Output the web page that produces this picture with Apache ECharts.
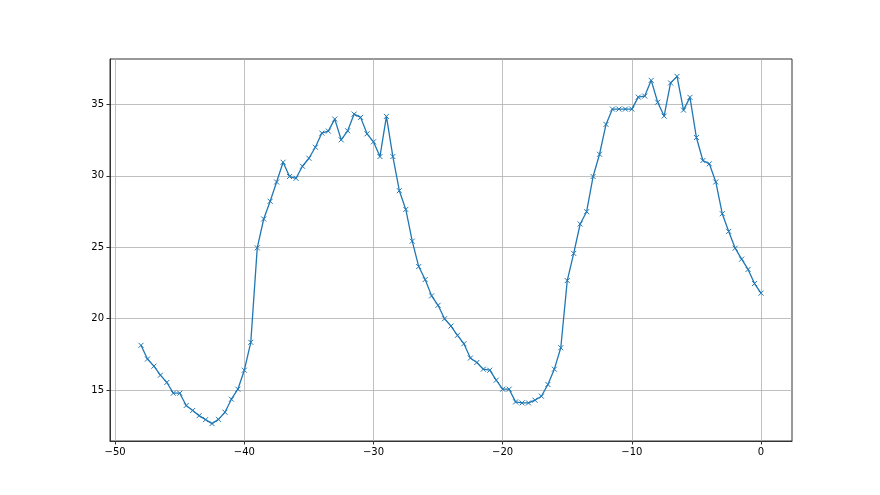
<!DOCTYPE html>
<html><head><meta charset="utf-8">
<script src="https://cdn.jsdelivr.net/npm/echarts@6/dist/echarts.min.js"></script>
<style>html,body{margin:0;padding:0;background:#fff}#c{width:880px;height:495px}</style>
</head><body><div id="c"></div>
<script>
const xStart = -48;
const xStep = 0.5;
const yValues = [
18.14,17.18,16.68,16.05,15.54,14.79,14.79,13.93,13.58,13.22,
12.94,12.66,12.96,13.46,14.37,15.07,16.40,18.35,24.96,26.98,
28.22,29.57,30.95,29.95,29.83,30.67,31.23,32.00,32.99,33.13,
33.97,32.52,33.15,34.32,34.09,32.94,32.38,31.35,34.16,31.35,
28.96,27.65,25.43,23.65,22.74,21.60,20.94,20.00,19.49,18.84,
18.25,17.25,16.94,16.47,16.40,15.70,15.07,15.07,14.18,14.11,
14.11,14.30,14.58,15.40,16.47,17.97,22.67,24.57,26.63,27.49,
29.95,31.51,33.60,34.67,34.67,34.67,34.67,35.51,35.58,36.68,
35.15,34.18,36.50,36.96,34.60,35.49,32.68,31.07,30.84,29.57,
27.35,26.11,24.94,24.17,23.45,22.46,21.79
];
const xValues = yValues.map((_, i) => xStart + i * xStep);
const xTicks = [-50, -40, -30, -20, -10, 0];
const yTicks = [15, 20, 25, 30, 35];

const data = xValues.map((x, i) => [x, yValues[i]]);
const ymin = Math.min(...yValues), ymax = Math.max(...yValues);
const xpad = (xValues[xValues.length-1] - xValues[0]) * 0.05;
const ypad = (ymax - ymin) * 0.05;
const fmt = v => String(v).replace('-', '\u2212');

const chart = echarts.init(document.getElementById('c'), null, {renderer: 'canvas'});
chart.setOption({
  animation: false,
  backgroundColor: '#fff',
  grid: {left: 110, right: 88, top: 59, bottom: 54, show: true, borderColor: '#333', borderWidth: 1, backgroundColor: 'transparent'},
  xAxis: {
    type: 'value', min: xValues[0] - xpad, max: xValues[xValues.length-1] + xpad, splitNumber: 5,
    axisLine: {show: true, onZero: false, lineStyle: {color: '#333', width: 1}},
    axisTick: {show: true, length: 3.5, lineStyle: {color: '#333'}, customValues: xTicks},
    axisLabel: {color: '#000', fontSize: 10, fontFamily: 'DejaVu Sans', margin: 6, showMinLabel: true, showMaxLabel: true, customValues: xTicks, formatter: fmt},
    splitLine: {show: true, lineStyle: {color: '#b0b0b0', width: 0.8}}
  },
  yAxis: {
    type: 'value', min: ymin - ypad, max: ymax + ypad, splitNumber: 5,
    axisLine: {show: true, onZero: false, lineStyle: {color: '#333', width: 1}},
    axisTick: {show: true, length: 3.5, lineStyle: {color: '#333'}, customValues: yTicks},
    axisLabel: {color: '#000', fontSize: 10, fontFamily: 'DejaVu Sans', margin: 6, showMinLabel: true, showMaxLabel: true, customValues: yTicks, formatter: fmt},
    splitLine: {show: true, lineStyle: {color: '#b0b0b0', width: 0.8}}
  },
  series: [{
    type: 'line', data: data,
    lineStyle: {color: '#1f77b4', width: 1.3},
    symbol: 'path://M0,0L10,10M10,0L0,10', symbolSize: 5, showAllSymbol: true,
    itemStyle: {color: '#1f77b4', borderColor: '#1f77b4', borderWidth: 1}
  }]
});
</script></body></html>
